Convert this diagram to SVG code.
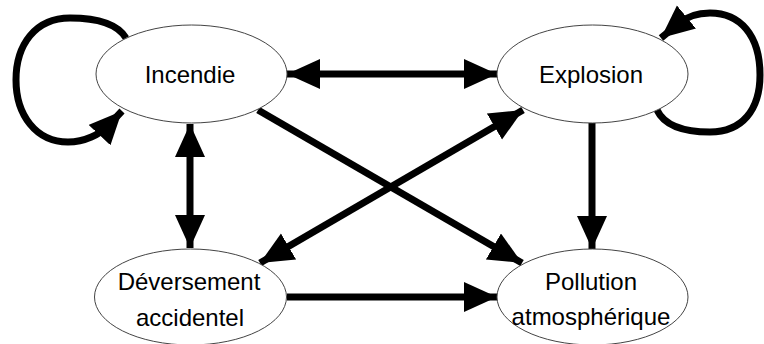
<svg xmlns="http://www.w3.org/2000/svg" width="764" height="344" viewBox="0 0 764 344">
<style>
.edge{fill:none;stroke:#000;stroke-width:7;stroke-linejoin:round}
.node ellipse{fill:#fff;stroke:#444;stroke-width:1}
.node text{font-family:"Liberation Sans",Arial,sans-serif;font-size:24px;fill:#000;text-anchor:middle}
</style>
<defs>
<marker id="ah" markerUnits="userSpaceOnUse" markerWidth="34" markerHeight="32" refX="33" refY="15" orient="auto-start-reverse" viewBox="0 0 34 32">
<path d="M0,0 L33,15 L0,30 z" fill="#000"/>
</marker>
</defs>
<rect width="764" height="344" fill="#fff"/>
<g id="connectors">
<path class="edge" d="M287,74 L497,74" marker-start="url(#ah)" marker-end="url(#ah)"/>
<path class="edge" d="M190,124 L190,248" marker-start="url(#ah)" marker-end="url(#ah)"/>
<path class="edge" d="M258,110 L522,263" marker-end="url(#ah)"/>
<path class="edge" d="M523,110 L260,263" marker-start="url(#ah)" marker-end="url(#ah)"/>
<path class="edge" d="M592,123 L592,249" marker-end="url(#ah)"/>
<path class="edge" d="M287,297 L497,297" marker-end="url(#ah)"/>
<path class="edge" d="M126,38 C118,25 100,18 70,18 C35,18 16,45 16,80 C16,115 36,142 68,142 C85,142 100,134 108,126 L122,111" marker-end="url(#ah)"/>
<path class="edge" d="M657,110 C665,127 688,132 710,132 C742,132 760,110 760,75 C760,35 740,13 710,13 C695,13 686,17 678,24 L661,38" marker-end="url(#ah)"/>
</g>
<g id="incendie" class="node">
<ellipse cx="191.5" cy="74" rx="95.5" ry="49"/>
<text x="190" y="83">Incendie</text>
</g>
<g id="explosion" class="node">
<ellipse cx="592.5" cy="74" rx="95.5" ry="49"/>
<text x="591" y="83">Explosion</text>
</g>
<g id="deversement" class="node">
<ellipse cx="190.5" cy="297" rx="96" ry="48"/>
<text x="189" y="290">Déversement</text>
<text x="190" y="326">accidentel</text>
</g>
<g id="pollution" class="node">
<ellipse cx="592.5" cy="297" rx="95.5" ry="48"/>
<text x="591" y="290">Pollution</text>
<text x="591" y="325">atmosphérique</text>
</g>
</svg>
